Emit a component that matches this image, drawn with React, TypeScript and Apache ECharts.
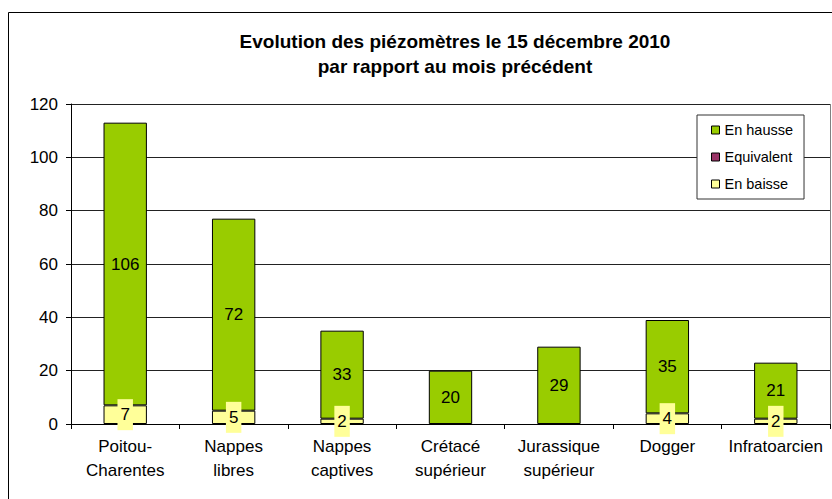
import React, { useEffect, useRef } from "react";
import * as echarts from "echarts";

const categories = [
  "Poitou-\nCharentes",
  "Nappes\nlibres",
  "Nappes\ncaptives",
  "Crétacé\nsupérieur",
  "Jurassique\nsupérieur",
  "Dogger",
  "Infratoarcien",
];
const enBaisse = [7, 5, 2, 0, 0, 4, 2];
const equivalent = [0, 0, 0, 0, 0, 0, 0];
const enHausse = [106, 72, 33, 20, 29, 35, 21];

const FONT = "'Liberation Sans', Arial, sans-serif";

// zero values are not drawn (no bar, no label), as in the original chart
const dropZeros = (arr: number[]) => arr.map((v) => (v === 0 ? "-" : v));

export default function App() {
  const ref = useRef<HTMLDivElement>(null);
  useEffect(() => {
    if (!ref.current) return;
    const chart = echarts.init(ref.current, undefined, { renderer: "svg" });
    chart.setOption({
      animation: false,
      backgroundColor: "#fff",
      textStyle: { fontFamily: FONT },
      title: {
        text: "Evolution des piézomètres le 15 décembre 2010\npar rapport au mois précédent",
        left: 450,
        top: 24,
        textAlign: "center",
        textStyle: { fontSize: 19, fontWeight: "bold", color: "#000", lineHeight: 25, fontFamily: FONT },
      },
      legend: {
        orient: "vertical",
        left: 697,
        top: 115,
        padding: [7, 11, 7, 14],
        itemGap: 11,
        itemWidth: 8,
        itemHeight: 8,
        itemTextGap: 6,
        itemStyle: { borderColor: "#000", borderWidth: 1 },
        borderColor: "#333",
        borderWidth: 1,
        backgroundColor: "#fff",
        textStyle: { fontSize: 14.5, color: "#000", lineHeight: 16, fontFamily: FONT },
        icon: "rect",
        data: ["En hausse", "Equivalent", "En baisse"],
      },
      grid: { left: 71, right: 2, top: 104, bottom: 75, containLabel: false },
      xAxis: {
        type: "category",
        data: categories,
        axisLine: { lineStyle: { color: "#000", width: 1 } },
        axisTick: { show: true, length: 5, lineStyle: { color: "#000" } },
        axisLabel: { fontSize: 17, color: "#000", margin: 10, lineHeight: 24, interval: 0, fontFamily: FONT },
      },
      yAxis: {
        type: "value",
        min: 0,
        max: 120,
        interval: 20,
        axisLine: { show: true, lineStyle: { color: "#000", width: 1 } },
        axisTick: { show: true, length: 5, lineStyle: { color: "#000" } },
        axisLabel: { fontSize: 17, color: "#000", margin: 13, fontFamily: FONT },
        splitLine: { lineStyle: { color: "#222", width: 1 } },
      },
      series: [
        {
          name: "En baisse",
          type: "bar",
          stack: "total",
          data: dropZeros(enBaisse),
          barWidth: "40%",
          z: 4,
          itemStyle: { color: "#FFFF99", borderColor: "#000", borderWidth: 1 },
          label: {
            show: true,
            position: "inside",
            fontSize: 17,
            color: "#000",
            backgroundColor: "#FFFF99",
            padding: [7, 3, 7, 3],
            fontFamily: FONT,
          },
        },
        {
          name: "Equivalent",
          type: "bar",
          stack: "total",
          data: dropZeros(equivalent),
          itemStyle: { color: "#993366", borderColor: "#000", borderWidth: 1 },
          label: { show: false },
        },
        {
          name: "En hausse",
          type: "bar",
          stack: "total",
          data: dropZeros(enHausse),
          z: 2,
          itemStyle: { color: "#99CC00", borderColor: "#000", borderWidth: 1 },
          label: {
            show: true,
            position: "inside",
            fontSize: 17,
            color: "#000",
            fontFamily: FONT,
          },
        },
      ],
      graphic: [
        {
          type: "rect",
          shape: { x: 8.5, y: 12.5, width: 900, height: 600 },
          style: { fill: "none", stroke: "#000", lineWidth: 1 },
          silent: true,
        },
        {
          type: "line",
          shape: { x1: 830.5, y1: 104, x2: 830.5, y2: 424 },
          style: { stroke: "#808080", lineWidth: 1 },
          silent: true,
        },
      ],
    });
    return () => chart.dispose();
  }, []);
  return (
    <div
      ref={ref}
      style={{ position: "absolute", left: 0, top: 0, width: 832, height: 499 }}
    />
  );
}
